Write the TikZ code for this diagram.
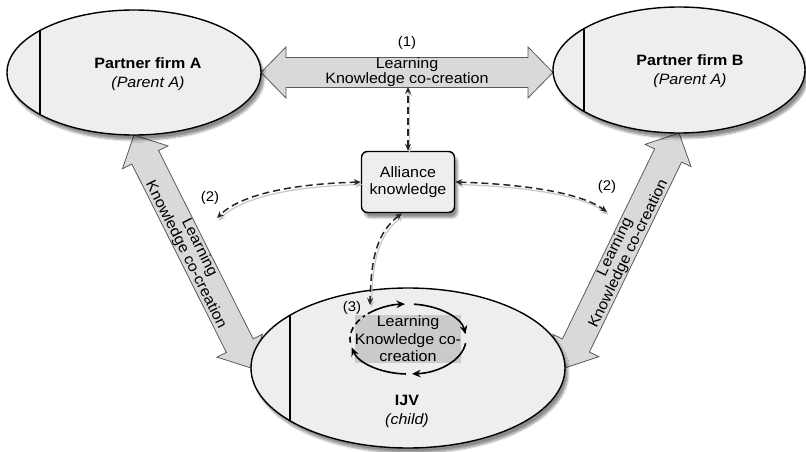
\documentclass[tikz,border=0pt]{standalone}
\usepackage{fontspec}
\setmainfont{Liberation Sans}[FakeStretch=1.07]
\usetikzlibrary{calc,arrows.meta,shapes.geometric,shadows.blur}

\definecolor{firmfill}{HTML}{EEEEEE}
\definecolor{arrowfill}{HTML}{D9D9D9}
\definecolor{arrowline}{HTML}{5A5A5A}
\definecolor{loopfill}{HTML}{CACACA}

\tikzset{
  x=1pt, y=-1pt,
  softshadow/.style={blur shadow={shadow xshift=3pt, shadow yshift=-5pt,
      shadow blur steps=8, shadow opacity=45}},
  firm/.style={ellipse, draw=black, line width=1.4pt, fill=firmfill,
      inner sep=0pt, outer sep=0pt, softshadow},
  firmlabel/.style={align=center, inner sep=0pt,
      font=\fontsize{15}{19}\selectfont},
  bigarrow/.style={draw=arrowline, line width=0.8pt, fill=arrowfill,
      line join=miter},
  flowtext/.style={align=center, inner sep=0pt,
      font=\fontsize{15}{13.5}\selectfont},
  tag/.style={inner sep=0pt, font=\fontsize{14}{16}\selectfont},
  akbox/.style={draw=black, line width=1.4pt, fill=firmfill, rounded corners=6pt,
      minimum width=93pt, minimum height=61pt, align=center, inner sep=0pt,
      font=\fontsize{15}{17}\selectfont, softshadow},
  looptext/.style={fill=loopfill, minimum width=95pt, minimum height=48pt,
      align=center, inner sep=0pt, font=\fontsize{15}{17.5}\selectfont},
  dashline/.style={draw=black!85, line width=1.5pt, dash pattern=on 7pt off 4pt,
      preaction={draw=black!22, line width=1.2pt,
        transform canvas={xshift=1.5pt, yshift=-2.5pt}}},
  tipd/.tip={Stealth[length=7pt, width=6pt]},
  tipl/.tip={Stealth[length=8.5pt, width=7.5pt]},
  loopline/.style={draw=black, line width=1.6pt},
  divider/.style={draw=black, line width=1.8pt},
}

% broad double-headed arrow between two tips
\newcommand\knowarrow[2]{%
  \coordinate (ka) at ($(#1)!25pt!(#2)$);
  \coordinate (kb) at ($(#2)!25pt!(#1)$);
  \draw[bigarrow] (#1) -- ($(ka)!25.5pt!90:(#2)$) -- ($(ka)!15pt!90:(#2)$)
    -- ($(kb)!15pt!-90:(#1)$) -- ($(kb)!25.5pt!-90:(#1)$) -- (#2)
    -- ($(kb)!25.5pt!90:(#1)$) -- ($(kb)!15pt!90:(#1)$)
    -- ($(ka)!15pt!-90:(#2)$) -- ($(ka)!25.5pt!-90:(#2)$) -- cycle;
}

\begin{document}
\begin{tikzpicture}
\useasboundingbox (0,0) rectangle (806,452);

% node positions (shapes drawn later, over the arrow tips)
\path (134,72.5) node[ellipse, minimum width=254pt, minimum height=125pt, inner sep=0pt, outer sep=0pt] (pa) {};
\path (679,70) node[ellipse, minimum width=252pt, minimum height=126pt, inner sep=0pt, outer sep=0pt] (pb) {};
\path (408,368) node[ellipse, minimum width=314pt, minimum height=160pt, inner sep=0pt, outer sep=0pt] (ij) {};

% broad arrows between the firms and the joint venture
\coordinate (t1) at (pa.east);
\coordinate (t2) at (pa.east -| pb.west);
\knowarrow{t1}{t2}
\knowarrow{pa.south}{ij.west}
\knowarrow{ij.east}{pb.south}

% the three organisations
\node[firm, minimum width=254pt, minimum height=125pt] at (pa) {};
\node[firm, minimum width=252pt, minimum height=126pt] at (pb) {};
\node[firm, minimum width=314pt, minimum height=160pt] at (ij) {};

% dividers inside the ellipses
\draw[divider] ([shift={(-94,-42)}]pa.center) -- ([shift={(-94,42)}]pa.center);
\draw[divider] ([shift={(-95,-42)}]pb.center) -- ([shift={(-95,42)}]pb.center);
\draw[divider] ([shift={(-118,-53)}]ij.center) -- ([shift={(-118,53)}]ij.center);

% labels of the organisations
\node[firmlabel] (pal) at (148,74.5) {\textbf{Partner firm A}\\\textit{(Parent A)}};
\node[firmlabel] (pbl) at (690,71.5) {\textbf{Partner firm B}\\\textit{(Parent A)}};
\node[firmlabel] (ijl) at (407,411.5) {\textbf{IJV}\\\textit{(child)}};

% texts on the broad arrows
\node[flowtext] (ttop) at ($(t1)!0.5!(t2)$) {Learning\\Knowledge co-creation};
\node[tag] (n1) at (407,43) {(1)};
\node[flowtext, rotate=-63.3] (tleft) at ($(pa.south)!0.5!(ij.west)$) {Learning\\Knowledge co-creation};
\node[flowtext, rotate=64.1] (tright) at ($(ij.east)!0.5!(pb.south)$) {Learning\\Knowledge co-creation};

% alliance knowledge
\node[akbox] (ak) at (408,182) {Alliance\\knowledge};

% dashed knowledge flows
\coordinate (topmid) at (408,87);
\coordinate (c2l) at (217,218);
\coordinate (c2r) at (607,212);
\coordinate (c3) at (370,305);
\draw[dashline, tipd-tipd] (ak.north) -- (topmid);
\draw[dashline, tipd-tipd] (ak.west) .. controls (290,184) and (240,195) .. (c2l);
\draw[dashline, tipd-tipd] (ak.east) .. controls (520,184) and (580,192) .. (c2r);
\draw[dashline, tipd-tipd] ([xshift=-6pt]ak.south) .. controls (378,232) and (371,255) .. (c3);
\node[tag] (n2l) at (210,198) {(2)};
\node[tag] (n2r) at (607,187) {(2)};

% learning loop inside the joint venture
\node[looptext] (lk) at (408,339) {Learning\\Knowledge co-\\creation};
\draw[loopline, -tipl] ([shift={(-134:58 and 35)}]lk.center) arc[start angle=-134, end angle=-93, x radius=58, y radius=35];
\draw[loopline, -tipl] ([shift={(-84:58 and 35)}]lk.center) arc[start angle=-84, end angle=-8, x radius=58, y radius=35];
\draw[loopline, -tipl] ([shift={(7:58 and 35)}]lk.center) arc[start angle=7, end angle=86, x radius=58, y radius=35];
\draw[loopline, -tipl] ([shift={(92:58 and 35)}]lk.center) arc[start angle=92, end angle=166, x radius=58, y radius=35];
\draw[loopline, dash pattern=on 6pt off 4pt] ([shift={(174:58 and 35)}]lk.center) arc[start angle=174, end angle=222, x radius=58, y radius=35];
\node[tag] (n3) at (352,308) {(3)};
\end{tikzpicture}
\end{document}
